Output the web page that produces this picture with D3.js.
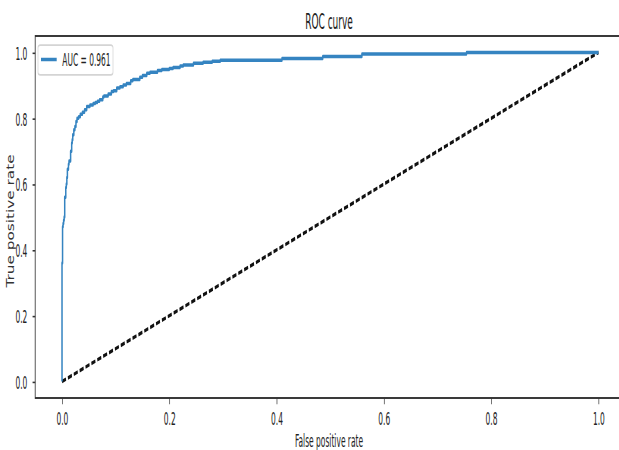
<!DOCTYPE html>
<html>
<head>
<meta charset="utf-8">
<script src="https://cdn.jsdelivr.net/npm/d3@7"></script>
<style>
  body { margin: 0; background: #fff; }
  text { font-family: "DejaVu Sans", sans-serif; }
</style>
</head>
<body>
<div id="view"></div>
<script>
var width = 619, height = 450;
// the reference picture is squeezed sideways and stretched upward
var SX = 0.75, SY = 1.75;

// ROC curve
var fpr = [0, 0, 0.001, 0.001, 0.002, 0.003, 0.004, 0.005, 0.005, 0.007, 0.008, 0.009, 0.010, 0.012, 0.013, 0.016, 0.018, 0.019, 0.020, 0.022, 0.024, 0.026, 0.028, 0.031, 0.034, 0.038, 0.042, 0.046, 0.052, 0.058, 0.062, 0.066, 0.070, 0.076, 0.078, 0.086, 0.092, 0.096, 0.102, 0.108, 0.114, 0.120, 0.128, 0.132, 0.145, 0.150, 0.158, 0.164, 0.178, 0.186, 0.200, 0.207, 0.220, 0.226, 0.245, 0.263, 0.280, 0.295, 0.320, 0.410, 0.410, 0.486, 0.486, 0.559, 0.559, 0.754, 0.754, 1.0];
var tpr = [0, 0.35, 0.36, 0.45, 0.47, 0.48, 0.49, 0.50, 0.55, 0.56, 0.59, 0.60, 0.62, 0.645, 0.66, 0.67, 0.70, 0.725, 0.735, 0.75, 0.765, 0.775, 0.79, 0.80, 0.805, 0.812, 0.818, 0.826, 0.836, 0.84, 0.845, 0.848, 0.852, 0.856, 0.865, 0.868, 0.874, 0.881, 0.884, 0.892, 0.896, 0.901, 0.906, 0.914, 0.918, 0.925, 0.93, 0.937, 0.94, 0.945, 0.948, 0.951, 0.954, 0.959, 0.962, 0.967, 0.97, 0.973, 0.976, 0.976, 0.982, 0.982, 0.988, 0.988, 0.995, 0.995, 1.0, 1.0];
var chance = [0, 1];
var xTicks = [0, 0.2, 0.4, 0.6, 0.8, 1.0];
var yTicks = [0, 0.2, 0.4, 0.6, 0.8, 1.0];
var aucLabel = "AUC = 0.961";
var title = "ROC curve";
var xLabel = "False positive rate";
var yLabel = "True positive rate";

var svg = d3.select("#view").append("svg")
	.attr("width", width)
	.attr("height", height);

// everything but the y label is drawn in the unsqueezed space
var g = svg.append("g").attr("transform", "scale(" + SX + "," + SY + ")");

var x = d3.scaleLinear().domain([-0.05, 1.05]).range([35.2 / SX, 625.3 / SX]);
var y = d3.scaleLinear().domain([-0.05, 1.05]).range([398 / SY, 36 / SY]);

var fmt = d3.format(".1f");

// x axis
var xa = g.append("g")
	.attr("transform", "translate(0," + y(-0.05) + ")")
	.call(d3.axisBottom(x).tickValues(xTicks).tickSize(3.5).tickSizeOuter(0).tickFormat(fmt));
xa.select(".domain").remove();
xa.selectAll("line").attr("stroke", "#333").attr("stroke-width", 0.9);
xa.selectAll("text")
	.attr("y", 15.3).attr("dy", null)
	.attr("fill", "#222")
	.style("font-family", "DejaVu Sans").style("font-size", "10px");

// y axis
var ya = g.append("g")
	.attr("transform", "translate(" + x(-0.05) + ",0)")
	.call(d3.axisLeft(y).tickValues(yTicks).tickSize(3.5).tickSizeOuter(0).tickFormat(fmt));
ya.select(".domain").remove();
ya.selectAll("line").attr("stroke", "#333").attr("stroke-width", 0.9);
ya.selectAll("text")
	.attr("x", -10.5).attr("dy", "0.37em")
	.attr("fill", "#222")
	.style("font-family", "DejaVu Sans").style("font-size", "10px");

// spines
g.append("rect")
	.attr("x", x(-0.05)).attr("y", y(1.05))
	.attr("width", x(1.05) - x(-0.05))
	.attr("height", y(-0.05) - y(1.05))
	.attr("fill", "none")
	.attr("stroke", "#333")
	.attr("stroke-width", 1.1);

// chance line
g.append("path")
	.datum(chance)
	.attr("d", d3.line().x(function(d) { return x(d); }).y(function(d) { return y(d); }))
	.attr("fill", "none")
	.attr("stroke", "#111")
	.attr("stroke-width", 2)
	.attr("stroke-dasharray", "5.5,2.6");

// roc curve
var pts = fpr.map(function(f, i) { return [f, tpr[i]]; });
g.append("path")
	.datum(pts)
	.attr("d", d3.line()
		.x(function(d) { return x(d[0]); })
		.y(function(d) { return y(d[1]); })
		.curve(d3.curveStepBefore))
	.attr("fill", "none")
	.attr("stroke", "#3584c1")
	.attr("stroke-width", 2)
	.attr("stroke-linejoin", "round");

// legend
g.append("rect")
	.attr("x", 38 / SX).attr("y", 45 / SY)
	.attr("width", 75 / SX).attr("height", 30 / SY)
	.attr("rx", 3).attr("ry", 1.5)
	.attr("fill", "#fff")
	.attr("stroke", "#d4d4d4")
	.attr("stroke-width", 1);
g.append("line")
	.attr("x1", 41 / SX).attr("x2", 56.7 / SX)
	.attr("y1", 59.5 / SY).attr("y2", 59.5 / SY)
	.attr("stroke", "#3584c1")
	.attr("stroke-width", 2);
g.append("text")
	.attr("x", 62.3 / SX).attr("y", 66 / SY)
	.attr("fill", "#222")
	.style("font-size", "10px")
	.text(aucLabel);

// title and x label
g.append("text")
	.attr("x", 329 / SX).attr("y", 29.3 / SY)
	.attr("text-anchor", "middle")
	.attr("fill", "#222")
	.style("font-size", "12px")
	.text(title);
g.append("text")
	.attr("x", 329 / SX).attr("y", 447 / SY)
	.attr("text-anchor", "middle")
	.attr("fill", "#222")
	.style("font-size", "10px")
	.text(xLabel);

// y label is wider than the rest in the picture
svg.append("text")
	.attr("transform", "translate(14,221) rotate(-90) scale(1.53,1.0)")
	.attr("text-anchor", "middle")
	.attr("fill", "#333")
	.style("font-size", "10px")
	.text(yLabel);
</script>
</body>
</html>
